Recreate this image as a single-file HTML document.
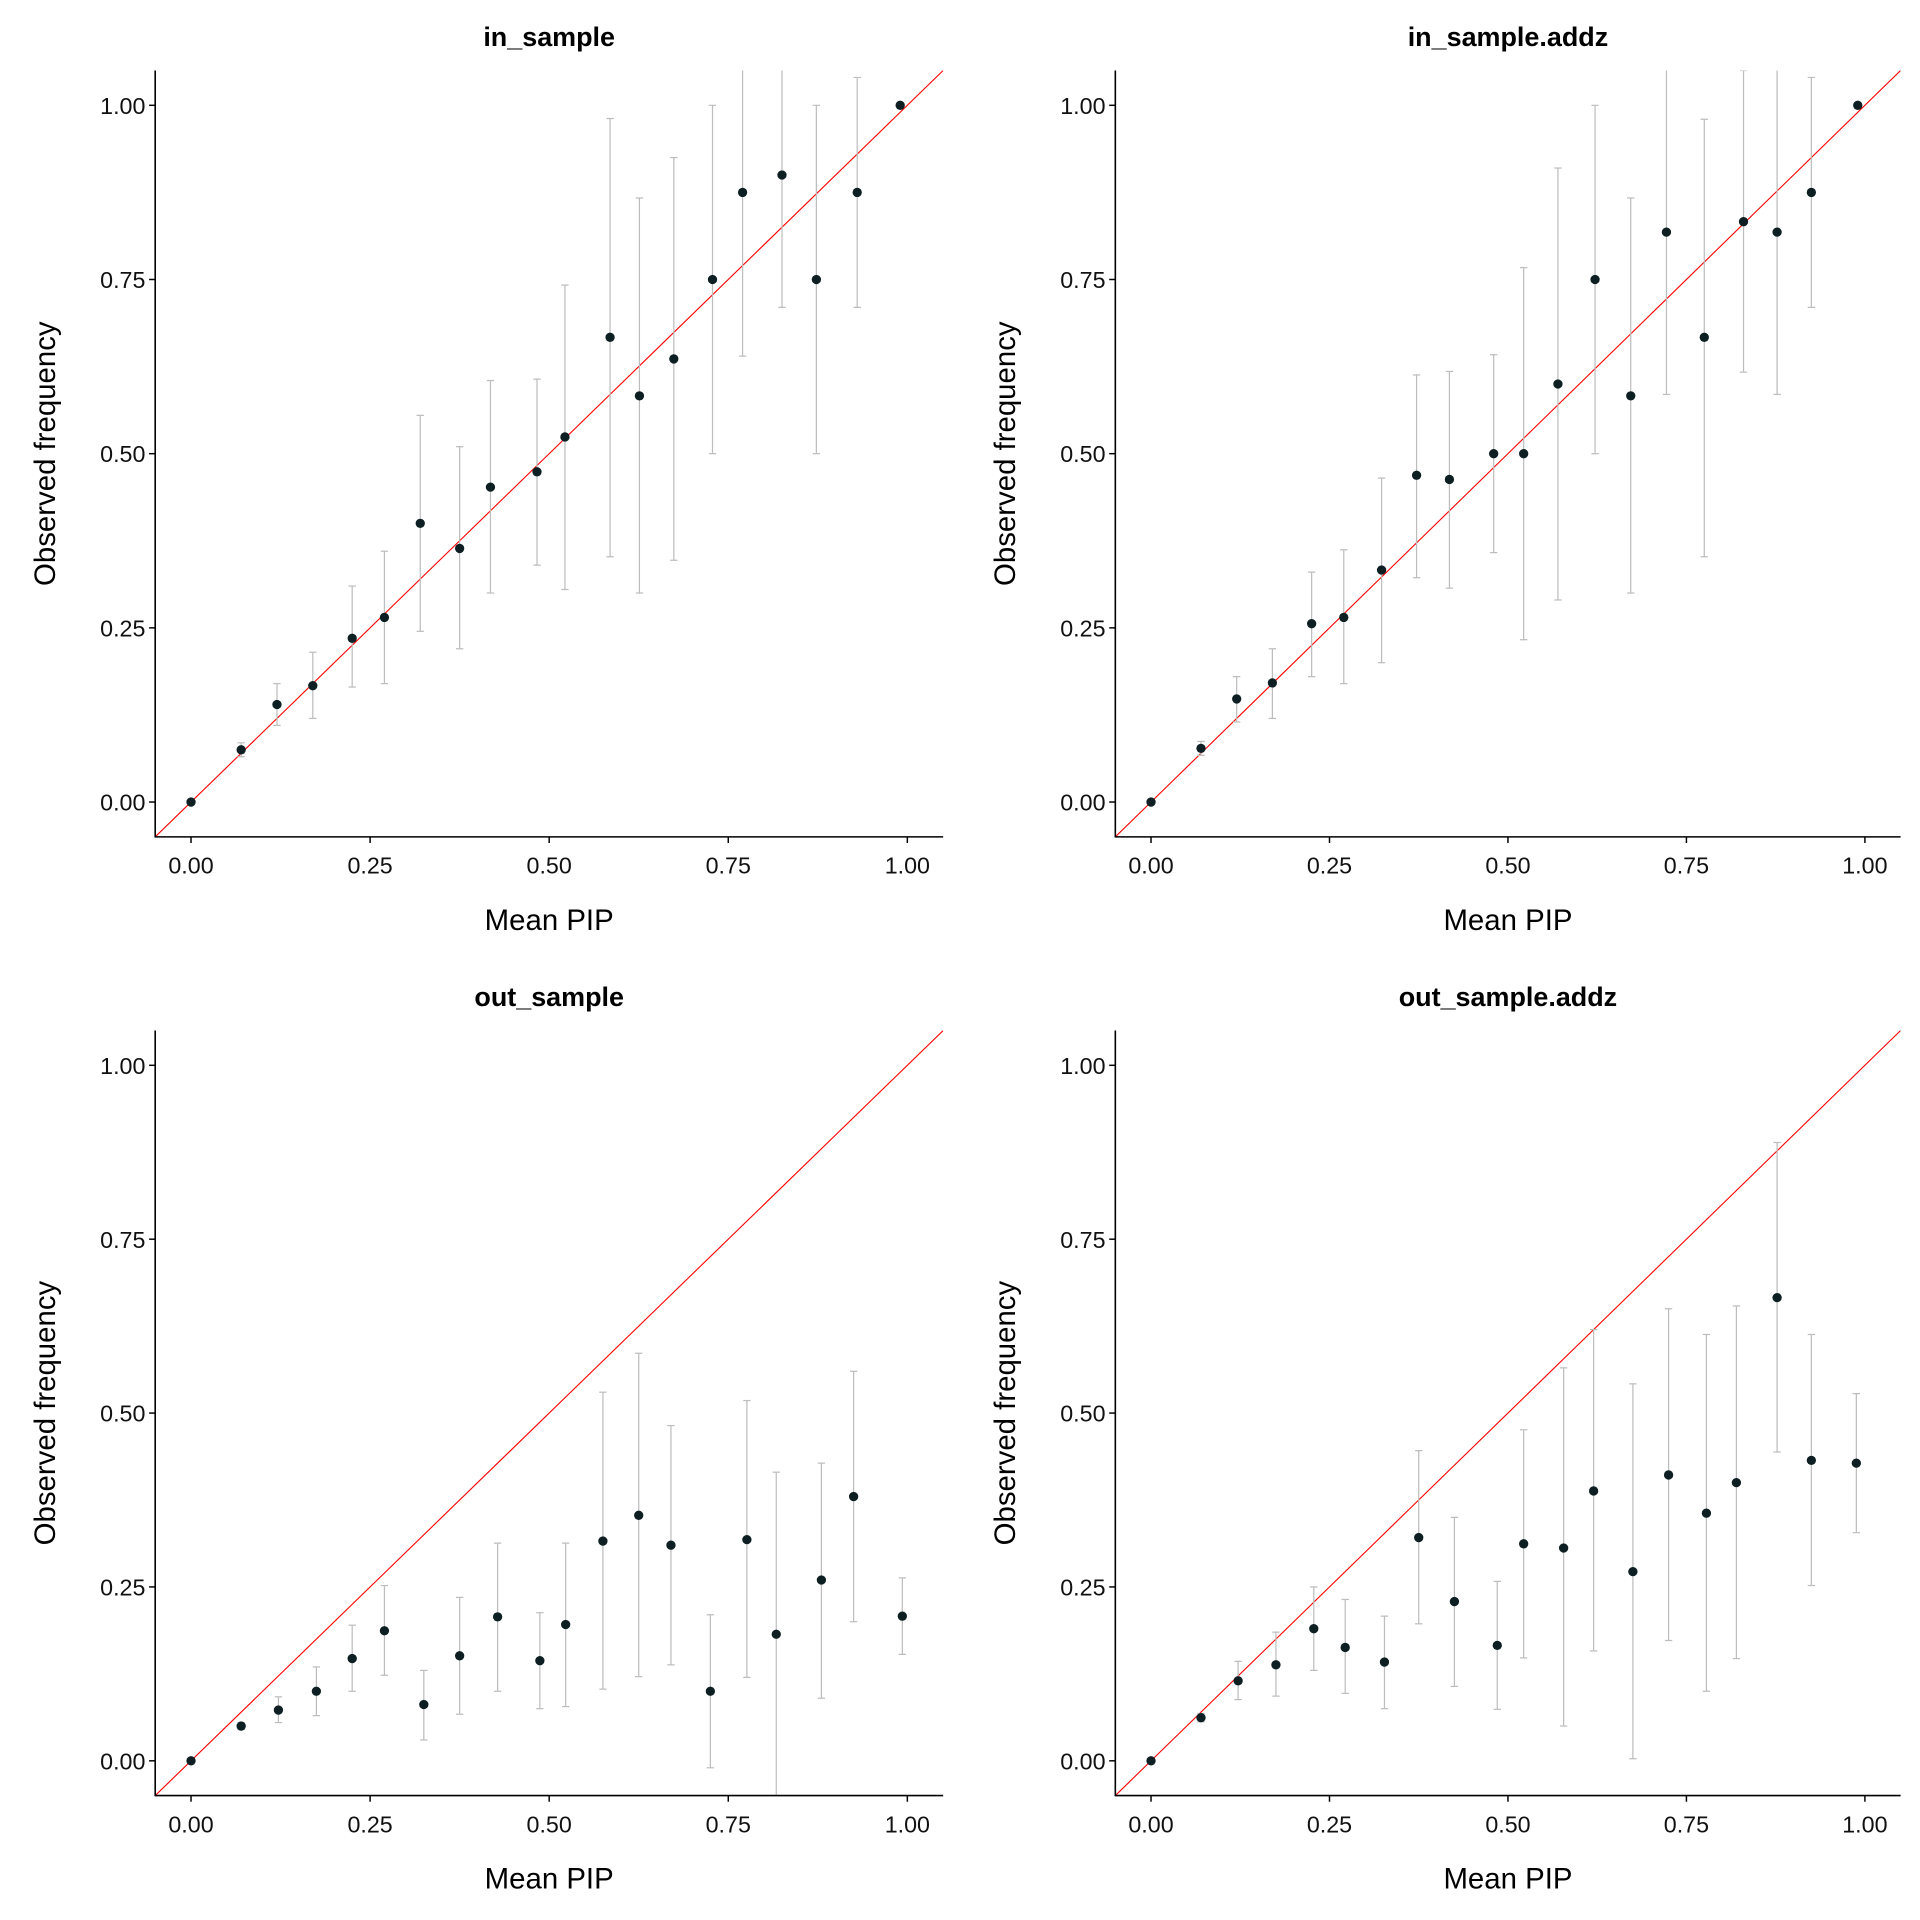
<!DOCTYPE html>
<html><head><meta charset="utf-8"><style>
html,body{margin:0;padding:0;background:#fff;}
svg{display:block;font-family:"Liberation Sans",Arial,sans-serif;}
</style></head><body>
<svg id="chart" width="1920" height="1920" viewBox="0 0 1568 1568" xmlns="http://www.w3.org/2000/svg"></svg>
<script>
const panelTitles = ["in_sample","in_sample.addz","out_sample","out_sample.addz"];
const tickValues = [0,0.25,0.5,0.75,1];
const tickLabels = ["0.00","0.25","0.50","0.75","1.00"];
// each point: [meanPIP, observed, lower, upper]
const inSample = [[0,0,0,0],[0.07,0.075,0.065,0.085],[0.12,0.14,0.11,0.17],[0.17,0.167,0.12,0.215],[0.225,0.235,0.165,0.31],[0.27,0.265,0.17,0.36],[0.32,0.40,0.245,0.555],[0.375,0.364,0.22,0.51],[0.418,0.452,0.30,0.605],[0.483,0.474,0.34,0.607],[0.522,0.524,0.305,0.742],[0.585,0.667,0.352,0.981],[0.626,0.583,0.30,0.867],[0.674,0.636,0.347,0.925],[0.728,0.75,0.50,1.0],[0.77,0.875,0.64,1.11],[0.825,0.90,0.71,1.09],[0.873,0.75,0.50,1.0],[0.93,0.875,0.71,1.04],[0.99,1.0,1.0,1.0]];
const inSampleAddz = [[0,0,0,0],[0.07,0.077,0.067,0.087],[0.12,0.148,0.115,0.18],[0.17,0.171,0.12,0.22],[0.225,0.256,0.18,0.33],[0.27,0.265,0.17,0.362],[0.323,0.333,0.20,0.465],[0.372,0.469,0.322,0.613],[0.418,0.463,0.307,0.618],[0.48,0.50,0.358,0.642],[0.522,0.50,0.233,0.767],[0.57,0.60,0.29,0.91],[0.622,0.75,0.50,1.0],[0.672,0.583,0.30,0.867],[0.722,0.818,0.585,1.08],[0.775,0.667,0.352,0.98],[0.83,0.833,0.617,1.05],[0.877,0.818,0.585,1.06],[0.925,0.875,0.71,1.04],[0.99,1.0,1.0,1.0]];
const outSample = [[0,0,0,0],[0.07,0.05,0.045,0.055],[0.122,0.073,0.055,0.092],[0.175,0.10,0.065,0.135],[0.225,0.147,0.10,0.195],[0.27,0.187,0.123,0.252],[0.325,0.081,0.03,0.13],[0.375,0.151,0.067,0.235],[0.428,0.207,0.10,0.313],[0.487,0.144,0.075,0.213],[0.523,0.196,0.078,0.313],[0.575,0.316,0.103,0.53],[0.625,0.353,0.121,0.586],[0.67,0.31,0.138,0.482],[0.725,0.10,-0.01,0.21],[0.776,0.318,0.12,0.518],[0.817,0.182,-0.06,0.415],[0.88,0.26,0.09,0.428],[0.925,0.38,0.20,0.56],[0.993,0.208,0.153,0.263]];
const outSampleAddz = [[0,0,0,0],[0.07,0.062,0.056,0.068],[0.122,0.115,0.088,0.143],[0.175,0.138,0.093,0.185],[0.228,0.19,0.13,0.25],[0.272,0.163,0.097,0.232],[0.327,0.142,0.075,0.208],[0.375,0.321,0.197,0.446],[0.425,0.229,0.107,0.35],[0.485,0.166,0.074,0.258],[0.522,0.312,0.148,0.476],[0.578,0.306,0.05,0.565],[0.62,0.388,0.158,0.62],[0.675,0.272,0.003,0.542],[0.725,0.411,0.173,0.65],[0.778,0.356,0.10,0.613],[0.82,0.40,0.147,0.654],[0.877,0.666,0.444,0.889],[0.925,0.432,0.252,0.613],[0.988,0.428,0.328,0.528]];
const allSeries = [inSample,inSampleAddz,outSample,outSampleAddz];

const NS="http://www.w3.org/2000/svg";
const svg=document.getElementById('chart');
function mk(tag,attrs,parent){const e=document.createElementNS(NS,tag);for(const k in attrs)e.setAttribute(k,attrs[k]);(parent||svg).appendChild(e);return e;}
const panels=[{x0:156,x1:741,y0:655,y1:86},{x0:940,x1:1523,y0:655,y1:86},{x0:156,x1:741,y0:1438,y1:870},{x0:940,x1:1523,y0:1438,y1:870}];
const DMIN=-0.05,DMAX=1.05;
panels.forEach((p,i)=>{
  const sx=v=>p.x0+(p.x1-p.x0)*v;
  const sy=v=>p.y0+(p.y1-p.y0)*v;
  const L=sx(DMIN),R=sx(DMAX),T=sy(DMAX),B=sy(DMIN);
  const g=mk('g',{});
  
  
  const cp=mk('clipPath',{id:'cp'+i},g);mk('rect',{x:L,y:T,width:R-L,height:B-T},cp);
  const plot=mk('g',{'clip-path':'url(#cp'+i+')'},g);
  const ref=mk('line',{x1:sx(DMIN),y1:sy(DMIN),x2:sx(DMAX),y2:sy(DMAX),stroke:'#ff0000','stroke-width':0.9},plot);
  
  
  allSeries[i].forEach(d=>{
    const [x,y,lo,hi]=d;
    if(hi>lo){
      const eb=mk('g',{stroke:'#bdbdbd','stroke-width':1},plot);
      
      
      mk('line',{x1:sx(x),x2:sx(x),y1:sy(lo),y2:sy(hi)},eb);
      mk('line',{x1:sx(x)-3,x2:sx(x)+3,y1:sy(lo),y2:sy(lo)},eb);
      mk('line',{x1:sx(x)-3,x2:sx(x)+3,y1:sy(hi),y2:sy(hi)},eb);
    }
  });
  allSeries[i].forEach(d=>{
    const c=mk('circle',{cx:sx(d[0]),cy:sy(d[1]),r:3.8,fill:'#0d1f22'},plot);
    
    
  });
  mk('line',{x1:L,y1:T,x2:L,y2:B+0.5,stroke:'#000','stroke-width':1.3},g);
  mk('line',{x1:L,y1:B,x2:R,y2:B,stroke:'#000','stroke-width':1.3},g);
  tickValues.forEach((v,k)=>{
    mk('line',{x1:sx(v),x2:sx(v),y1:B,y2:B+5,stroke:'#000','stroke-width':1.2},g);
    mk('line',{x1:L-5,x2:L,y1:sy(v),y2:sy(v),stroke:'#000','stroke-width':1.2},g);
    const tx=mk('text',{x:sx(v),y:B+30,'font-size':19,'text-anchor':'middle',fill:'#111'},g);tx.textContent=tickLabels[k];
    
    
    const ty=mk('text',{x:L-8,y:sy(v)+7,'font-size':19,'text-anchor':'end',fill:'#111'},g);ty.textContent=tickLabels[k];
    
    
  });
  const xt=mk('text',{x:(L+R)/2,y:B+76,'font-size':24,'text-anchor':'middle',fill:'#000'},g);xt.textContent='Mean PIP';
  
  
  const yc=(T+B)/2,xx=L-82;
  const yt=mk('text',{x:xx,y:yc,'font-size':24,'text-anchor':'middle',fill:'#000',transform:`rotate(-90 ${xx} ${yc})`},g);yt.textContent='Observed frequency';
  
  
  const tt=mk('text',{x:(L+R)/2,y:T-20,'font-size':22,'font-weight':'bold','text-anchor':'middle',fill:'#000'},g);tt.textContent=panelTitles[i];
  
  
});
</script>
</body></html>
